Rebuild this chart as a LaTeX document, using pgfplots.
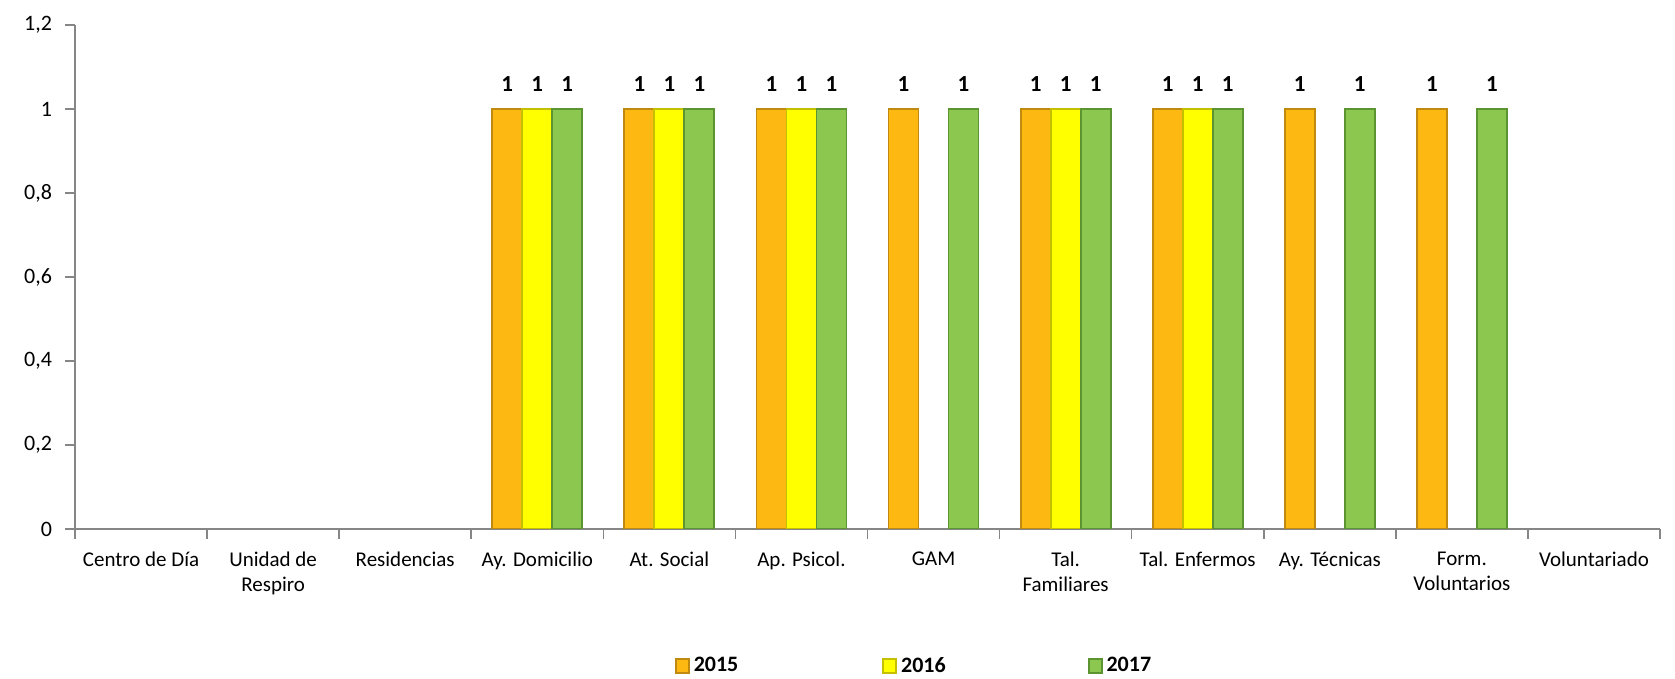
\documentclass[border=0pt]{standalone}
\usepackage{fontspec}
\setmainfont{Carlito}
\usepackage{pgfplots}
\pgfplotsset{compat=1.18}

\definecolor{c15}{HTML}{FDB812}
\definecolor{c15d}{HTML}{C08A10}
\definecolor{c16}{HTML}{FFFF00}
\definecolor{c16d}{HTML}{C4C000}
\definecolor{c17}{HTML}{8CC850}
\definecolor{c17d}{HTML}{5C9432}
\definecolor{axgray}{HTML}{868686}

\pgfplotsset{
  mybar/.style={fill=#1, draw=#1d, line width=0.9pt,
    legend image code/.code={\draw[##1] (0pt,-3.5pt) rectangle (6.5pt,3.5pt);}},
}

\begin{document}
\begin{tikzpicture}
\begin{axis}[
    name=ax,
    scale only axis,
    width=792.5pt, height=252pt,
    ybar=0pt, bar width=15pt,
    xmin=-0.5, xmax=11.5,
    ymin=0, ymax=1.2,
    ytick={0,0.2,0.4,0.6,0.8,1,1.2},
    /pgf/number format/use comma,
    /pgf/number format/assume math mode=true,
    xtick={0,...,11},
    xticklabels={Centro de Día, {Unidad de\\Respiro}, Residencias, Ay. Domicilio,
      At. Social, Ap. Psicol., GAM, {Tal.\\Familiares}, Tal. Enfermos,
      Ay. Técnicas, {Form.\\Voluntarios}, Voluntariado},
    minor xtick={-0.5,0.5,...,11.5},
    axis x line*=bottom, axis y line*=left,
    axis line style={axgray, line width=0.8pt},
    tick align=outside,
    major tick length=5pt, minor tick length=5pt,
    major x tick style={draw=none},
    minor x tick style={axgray, line width=0.8pt},
    y tick style={axgray, line width=0.8pt},
    xticklabel style={font=\fontsize{10.5}{12.5}\selectfont, align=center, yshift=-3pt},
    yticklabel style={font=\fontsize{11}{13}\selectfont, xshift=-3pt},
    nodes near coords,
    every node near coord/.append style={font=\bfseries\fontsize{11.5}{13}\selectfont, yshift=5pt},
    legend columns=3,
    legend style={at={(0.530,-0.272)}, anchor=center, draw=none,
      font=\bfseries\fontsize{11}{13}\selectfont,
      /tikz/column 2/.style={column sep=70pt},
      /tikz/column 4/.style={column sep=69pt}},
]
\addplot[mybar=c15] coordinates {(3,1) (4,1) (5,1) (6,1) (7,1) (8,1) (9,1) (10,1)};
\addplot[mybar=c16] coordinates {(3,1) (4,1) (5,1) (7,1) (8,1)};
\addplot[mybar=c17] coordinates {(3,1) (4,1) (5,1) (6,1) (7,1) (8,1) (9,1) (10,1)};
\legend{2015,2016,2017}
\end{axis}
\pgfresetboundingbox
\path ([shift={(-37.5pt,-75pt)}]ax.south west) rectangle ([shift={(7.5pt,12.5pt)}]ax.north east);
\end{tikzpicture}
\end{document}
